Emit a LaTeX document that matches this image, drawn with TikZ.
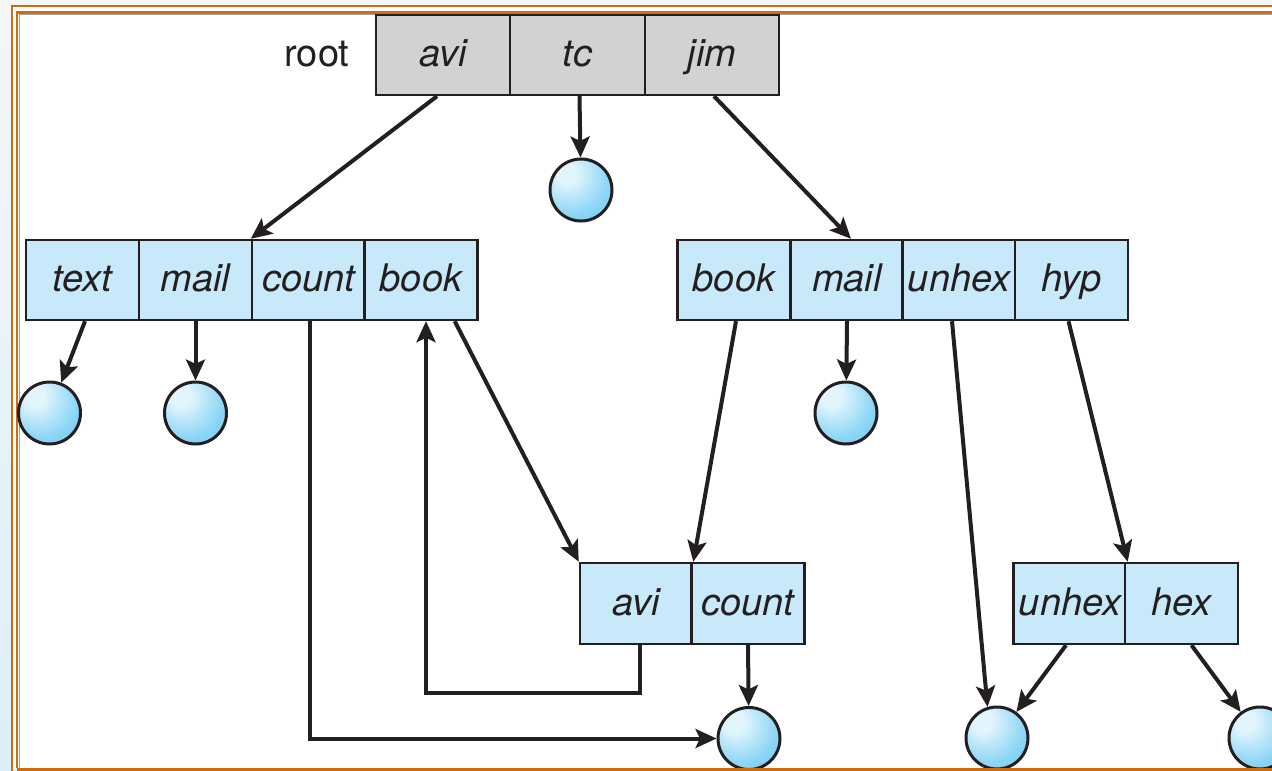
\documentclass[tikz,border=0pt]{standalone}
\usepackage{fontspec}
\setmainfont{TeX Gyre Heros}
\usetikzlibrary{arrows.meta,calc,positioning}
\definecolor{ink}{RGB}{35,31,32}
\definecolor{cellblue}{RGB}{200,233,249}
\definecolor{rootgray}{RGB}{208,210,211}
\definecolor{framecol}{RGB}{208,108,14}
\definecolor{outsidetop}{RGB}{244,246,248}
\definecolor{outsidebot}{RGB}{220,238,250}
\definecolor{bubblehi}{RGB}{226,245,253}
\definecolor{bubblemid}{RGB}{140,214,246}
\definecolor{bubblelo}{RGB}{96,200,242}
\definecolor{bubbleedge}{RGB}{78,190,238}
\pgfdeclareradialshading{bubble}{\pgfpoint{-13bp}{15bp}}{color(0bp)=(bubblehi); color(8bp)=(bubblehi); color(30bp)=(bubblemid); color(50bp)=(bubblelo); color(66bp)=(bubbleedge); color(90bp)=(bubbleedge)}
\begin{document}
\begin{tikzpicture}[x=1pt,y=-1pt,>={Stealth[length=21pt,width=19pt,inset=4.5pt]},
  cell/.style={draw=ink,line width=2.4pt,fill=cellblue,minimum width=113pt,minimum height=80pt,
    inner sep=0pt,font=\fontsize{38}{45}\selectfont\itshape,text=ink,text height=23pt,text depth=0pt},
  rootcell/.style={cell,fill=rootgray,minimum width=134.5pt},
  bubblenode/.style={circle,draw=ink,line width=3pt,shading=bubble,minimum size=62pt,inner sep=0pt},
  link/.style={->,line width=4pt,draw=ink}]
  \useasboundingbox (0,0) rectangle (1272,771);
%%
  % Frame
  \fill[top color=outsidetop,bottom color=outsidebot] (0,0) rectangle (1272,771);
  \fill[white] (12,6) rectangle (1272,768.5);
  \draw[framecol,line width=2.5pt] (12,771) -- (12,6) -- (1272,6);
  \draw[framecol,line width=2.5pt] (17,768) -- (17,12.5) -- (1272,12.5);
  \draw[black!35,line width=1pt] (19,768) -- (19,14.5) -- (1272,14.5);
  % Node: root
  \node[rootcell] (ravi) at (443,55) {avi};
  \node[rootcell] (rtc) at (577.5,55) {tc};
  \node[rootcell] (rjim) at (712,55) {jim};
  \node[left=25pt of ravi,inner sep=0pt,font=\fontsize{38}{45}\selectfont,text=ink,text height=23pt,text depth=0pt] (rootlabel) {root};
  % Node: avi directory
  \node[cell] (ltext) at (82.5,280) {text};
  \node[cell] (lmail) at (195.5,280) {mail};
  \node[cell] (lcount) at (308.5,280) {count};
  \node[cell] (lbook) at (421,280) {book};
  % Node: jim directory
  \node[cell] (rbook) at (734,280) {book};
  \node[cell] (rmail) at (847,280) {mail};
  \node[cell] (runhex) at (959,280) {unhex};
  \node[cell] (rhyp) at (1071.5,280) {hyp};
  % Node: shared directory
  \node[cell,minimum height=81pt] (bavi) at (636.5,603.5) {avi};
  \node[cell,minimum height=81pt] (bcount) at (748,603.5) {count};
  % Node: hyp directory
  \node[cell,minimum height=81pt] (bunhex) at (1070,603.5) {unhex};
  \node[cell,minimum height=81pt] (bhex) at (1181.5,603.5) {hex};
  % Node: files
  \node[bubblenode] (ctc) at (581,190) {};
  \node[bubblenode] (ctext) at (49.5,413) {};
  \node[bubblenode] (cmaill) at (195.5,413) {};
  \node[bubblenode] (cmailr) at (846,413) {};
  \node[bubblenode] (ccount) at (749,738.5) {};
  \node[bubblenode] (cunhex) at (997,738) {};
  \node[bubblenode] (chex) at (1260,738) {};
  % Edge: root -> avi, tc, jim
  \draw[link] ($(ravi.south)+(-6,0)$) -- (lcount.north west);
  \draw[link] ($(rtc.south)+(2,0)$) -- (ctc);
  \draw[link] ($(rjim.south)+(2,0)$) -- ($(rmail.north)+(4,0)$);
  % Edge: avi directory
  \draw[link] ($(ltext.south)+(2.5,0)$) -- (ctext);
  \draw[link] (lmail.south) -- (cmaill);
  \draw[link] ($(lcount.south)+(1.5,0)$) |- (ccount);
  \draw[link] ($(lbook.south east)+(-24,0)$) -- (bavi.north west);
  % Edge: jim directory
  \draw[link] ($(rbook.south)+(2,0)$) -- ($(bcount.north west)+(3,0)$);
  \draw[link] (rmail.south) -- (cmailr);
  \draw[link] ($(runhex.south)+(-7,0)$) -- (cunhex.107);
  \draw[link] ($(rhyp.south)+(-3,0)$) -- (bunhex.north east);
  % Edge: shared directory
  \draw[link] ($(bavi.south)+(3.5,0)$) -- ++(0,48) -| ($(lbook.south)+(5,0)$);
  \draw[link] (bcount.south) -- (ccount);
  % Edge: hyp directory
  \draw[link] ($(bunhex.south)+(-4,0)$) -- (cunhex);
  \draw[link] ($(bhex.south)+(10,0)$) -- (chex);
  % Frame bottom
  \draw[framecol,line width=3pt] (17,769) -- (1272,769);
%
\end{tikzpicture}
\end{document}
